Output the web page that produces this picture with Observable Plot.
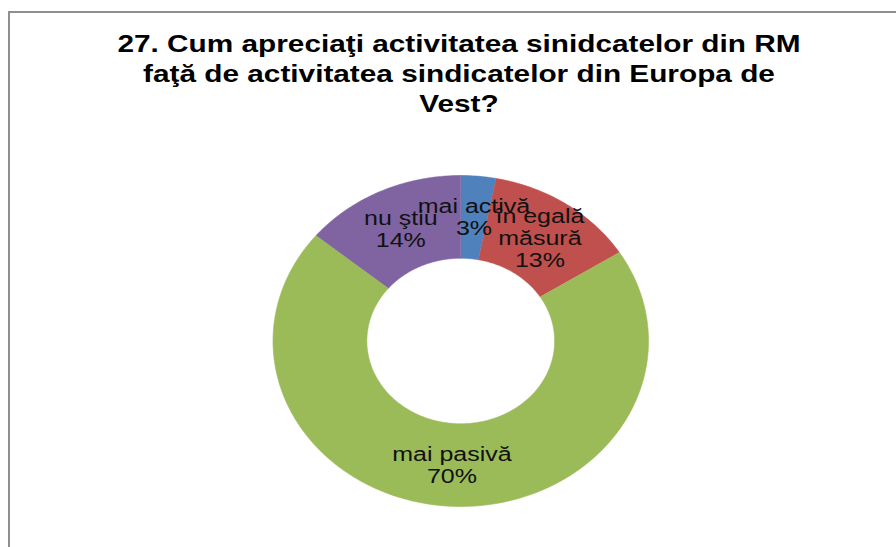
<!DOCTYPE html>
<html>
<head>
<meta charset="utf-8">
<script src="https://cdn.jsdelivr.net/npm/d3@7"></script>
<script src="https://cdn.jsdelivr.net/npm/@observablehq/plot@0.6"></script>
<style>
  html, body { margin: 0; padding: 0; background: #fff; overflow: hidden; }
  #page { position: relative; width: 896px; height: 547px; overflow: hidden; font-family: "Liberation Sans", Arial, sans-serif; }
  #frame { position: absolute; left: 8px; top: 11px; width: 1000px; height: 1000px; border: 2px solid #8f8f8f; box-sizing: border-box; pointer-events: none; }
  #title { position: relative; width: 918px; height: 130px; padding-top: 29px; box-sizing: border-box; text-align: center; font-weight: bold; font-size: 24px; line-height: 30px; color: #000; }
  #title div { transform: scaleX(1.24); transform-origin: center; white-space: nowrap; }
  #chart svg { display: block; }
</style>
</head>
<body>
<div id="page">
  <div id="frame"></div>
  <div id="title"></div>
  <div id="chart"></div>
</div>
<script>
// ---- data ----
const titleLines = [
  "27. Cum apreciaţi activitatea sinidcatelor din RM",
  "faţă de activitatea sindicatelor din Europa de",
  "Vest?"
];
const categories = ["mai activă", "în egală măsură", "mai pasivă", "nu ştiu"];
const labelTexts = ["mai activă", "în egală\nmăsură", "mai pasivă", "nu ştiu"];
const percents = [3, 13, 70, 14];
const colors = ["#4F81BD", "#C0504D", "#9BBB59", "#8064A2"];

// ---- title ----
const t = document.getElementById("title");
titleLines.forEach(s => { const d = document.createElement("div"); d.textContent = s; t.appendChild(d); });

// ---- donut geometry (computed from the values) ----
const total = d3.sum(percents);
const innerRatio = 0.5;
const pts = [];
const labels = [];
let acc = 0;
categories.forEach((c, i) => {
  const a0 = acc / total * 2 * Math.PI;
  acc += percents[i];
  const a1 = acc / total * 2 * Math.PI;
  const n = Math.max(2, Math.ceil((a1 - a0) / (Math.PI / 180)));
  for (let k = 0; k <= n; k++) {
    const a = a0 + (a1 - a0) * k / n;
    pts.push({cat: c, x: Math.sin(a), y: Math.cos(a)});
  }
  for (let k = n; k >= 0; k--) {
    const a = a0 + (a1 - a0) * k / n;
    pts.push({cat: c, x: innerRatio * Math.sin(a), y: innerRatio * Math.cos(a)});
  }
  const am = (a0 + a1) / 2;
  const rm = (1 + innerRatio) / 2;
  labels.push({cat: c, x: rm * Math.sin(am), y: rm * Math.cos(am), text: labelTexts[i] + "\n" + percents[i] + "%"});
});

const plot = Plot.plot({
  width: 896,
  height: 417,
  marginLeft: 272.5,
  marginRight: 248,
  marginTop: 45,
  marginBottom: 41,
  x: {domain: [-1, 1], axis: null},
  y: {domain: [-1, 1], axis: null},
  color: {domain: categories, range: colors},
  style: {background: "transparent", overflow: "visible"},
  marks: [
    Plot.line(pts, {x: "x", y: "y", z: "cat", fill: "cat", stroke: "cat", strokeWidth: 0.6, curve: "linear"}),
    Plot.text(labels, {x: "x", y: "y", text: "text", fill: "#111", fontSize: 20, lineHeight: 1.1,
      fontFamily: "Liberation Sans, Arial, sans-serif", textAnchor: "middle", lineAnchor: "middle"})
  ]
});
document.getElementById("chart").appendChild(plot);

// stretch label glyphs horizontally as in the reference
plot.querySelectorAll('g[aria-label="text"] text').forEach(el => {
  const tr = el.getAttribute("transform");
  if (tr) {
    el.setAttribute("transform", tr + " scale(1.25,1)");
  } else {
    const x = +el.getAttribute("x") || 0, y = +el.getAttribute("y") || 0;
    el.removeAttribute("x"); el.removeAttribute("y");
    el.querySelectorAll("tspan").forEach(ts => { if (ts.getAttribute("x") != null) ts.setAttribute("x", 0); });
    el.setAttribute("transform", `translate(${x},${y}) scale(1.25,1)`);
  }
});
</script>
</body>
</html>
